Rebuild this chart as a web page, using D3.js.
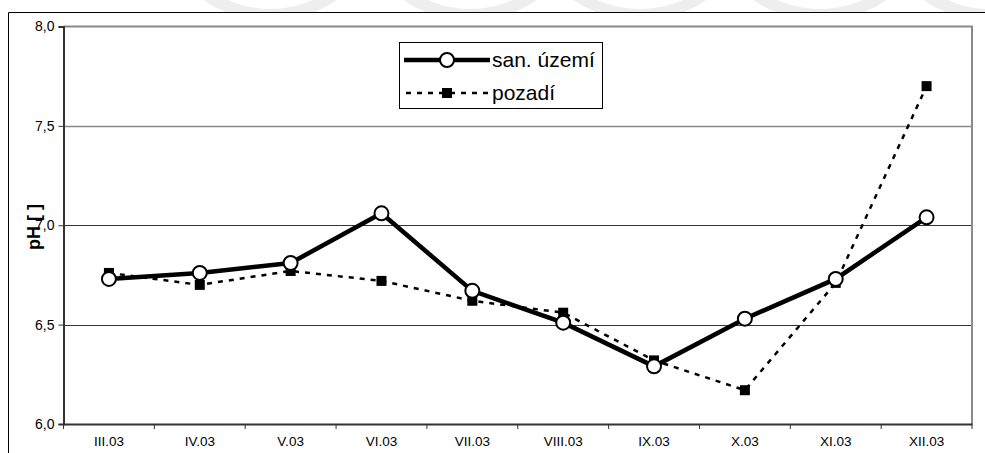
<!DOCTYPE html>
<html>
<head>
<meta charset="utf-8">
<script src="https://cdn.jsdelivr.net/npm/d3@7/dist/d3.min.js"></script>
<style>
  html, body { margin: 0; padding: 0; background: #fff; }
  svg { display: block; font-family: Arial, "Liberation Sans", sans-serif; }
</style>
</head>
<body>
<svg id="chart" width="985" height="453"></svg>
<script>
// Monthly pH readings, 2003
const months = ["III.03", "IV.03", "V.03", "VI.03", "VII.03", "VIII.03", "IX.03", "X.03", "XI.03", "XII.03"];
const sanUzemi = [6.73, 6.76, 6.81, 7.06, 6.67, 6.51, 6.29, 6.53, 6.73, 7.04];
const pozadi   = [6.76, 6.70, 6.77, 6.72, 6.62, 6.56, 6.32, 6.17, 6.71, 7.70];
const yTicks = [6.0, 6.5, 7.0, 7.5, 8.0];
const seriesNames = ["san. území", "pozadí"];

const FONT = "Arial, 'Liberation Sans', sans-serif";
const svg = d3.select("#chart");
const plot = { left: 63.5, top: 26.5, right: 972, bottom: 424 };

// faint background watermark arcs
const wm = svg.append("g").attr("fill", "none").attr("stroke", "#eeeeee").attr("stroke-width", 12);
[[270, -95], [470, -95], [640, -95], [820, -95], [990, -95]].forEach(([cx, cy]) => {
  wm.append("circle").attr("cx", cx).attr("cy", cy).attr("r", 110);
});

// outer frame
svg.append("path")
  .attr("d", "M8.5,453 L8.5,12.5 L985,12.5")
  .attr("fill", "none").attr("stroke", "#000").attr("stroke-width", 1);
svg.append("rect").attr("x", 9).attr("y", 13).attr("width", 976).attr("height", 440).attr("fill", "#fff");

const x = d3.scaleBand().domain(months).range([plot.left, plot.right]).padding(0);
const y = d3.scaleLinear().domain([6, 8]).range([plot.bottom, plot.top]);

// horizontal gridlines
svg.append("g").selectAll("line")
  .data(yTicks.filter(t => t > 6 && t < 8))
  .join("line")
  .attr("x1", plot.left).attr("x2", plot.right)
  .attr("y1", d => Math.round(y(d)) + 0.5).attr("y2", d => Math.round(y(d)) + 0.5)
  .attr("stroke", d => d === 7.5 ? "#8a8a8a" : "#000")
  .attr("stroke-width", d => d === 7.5 ? 1.3 : 0.8);

// top and right plot borders (grey)
svg.append("path")
  .attr("d", `M${plot.left},${plot.top} L${plot.right},${plot.top} L${plot.right},${plot.bottom}`)
  .attr("fill", "none").attr("stroke", "#8a8a8a").attr("stroke-width", 2);

// y axis
const yAxis = d3.axisLeft(y).tickValues(yTicks).tickSize(5).tickPadding(4)
  .tickFormat(d => d3.format(".1f")(d).replace(".", ","));
const gy = svg.append("g").attr("transform", `translate(${plot.left},0)`).call(yAxis);
gy.select(".domain").attr("stroke", "#333").attr("stroke-width", 2);
gy.selectAll(".tick line").attr("stroke", "#333");
gy.selectAll(".tick text").attr("font-size", 14).attr("fill", "#000").attr("font-family", FONT);

// x axis
const xAxis = d3.axisBottom(x).tickSize(0).tickPadding(12);
const gx = svg.append("g").attr("transform", `translate(0,${plot.bottom})`).call(xAxis);
gx.select(".domain").attr("stroke", "#333").attr("stroke-width", 2);
gx.selectAll(".tick text").attr("font-size", 13.5).attr("fill", "#000").attr("font-family", FONT);
// category separator ticks
svg.append("g").selectAll("line")
  .data(months.concat(["__end"]))
  .join("line")
  .attr("x1", (d, i) => i < months.length ? x(d) : plot.right)
  .attr("x2", (d, i) => i < months.length ? x(d) : plot.right)
  .attr("y1", plot.bottom).attr("y2", plot.bottom + 5)
  .attr("stroke", "#333").attr("stroke-width", 1);

// y axis title
svg.append("text")
  .attr("transform", `translate(40,227) rotate(-90)`)
  .attr("text-anchor", "middle")
  .attr("font-size", 18).attr("font-weight", "bold").attr("font-family", FONT)
  .text("pH [ ]");

const cx = d => x(d) + x.bandwidth() / 2;
const line = d3.line().x(d => cx(d.m)).y(d => y(d.v));

const bg = months.map((m, i) => ({ m, v: pozadi[i] }));
const san = months.map((m, i) => ({ m, v: sanUzemi[i] }));

// pozadí: dotted line with square markers
svg.append("path").datum(bg).attr("d", line)
  .attr("fill", "none").attr("stroke", "#000").attr("stroke-width", 2.5)
  .attr("stroke-dasharray", "5,6");
svg.append("g").selectAll("rect").data(bg).join("rect")
  .attr("x", d => cx(d.m) - 5).attr("y", d => y(d.v) - 5)
  .attr("width", 10).attr("height", 10).attr("fill", "#000");

// san. území: thick line with open circle markers
svg.append("path").datum(san).attr("d", line)
  .attr("fill", "none").attr("stroke", "#000").attr("stroke-width", 4.5)
  .attr("stroke-linejoin", "miter");
svg.append("g").selectAll("circle").data(san).join("circle")
  .attr("cx", d => cx(d.m)).attr("cy", d => y(d.v)).attr("r", 7)
  .attr("fill", "#fff").attr("stroke", "#000").attr("stroke-width", 2);

// legend
const lg = svg.append("g");
lg.append("rect").attr("x", 399.5).attr("y", 42.5).attr("width", 203).attr("height", 66)
  .attr("fill", "#fff").attr("stroke", "#000").attr("stroke-width", 1);
lg.append("line").attr("x1", 404).attr("x2", 490).attr("y1", 60).attr("y2", 60)
  .attr("stroke", "#000").attr("stroke-width", 4.5);
lg.append("circle").attr("cx", 447).attr("cy", 60).attr("r", 7)
  .attr("fill", "#fff").attr("stroke", "#000").attr("stroke-width", 2);
lg.append("line").attr("x1", 406).attr("x2", 490).attr("y1", 93).attr("y2", 93)
  .attr("stroke", "#000").attr("stroke-width", 2.5).attr("stroke-dasharray", "5,6");
lg.append("rect").attr("x", 442).attr("y", 88).attr("width", 10).attr("height", 10).attr("fill", "#000");
lg.selectAll("text.leg").data(seriesNames).join("text")
  .attr("class", "leg")
  .attr("x", 492).attr("y", (d, i) => 67 + i * 33)
  .attr("font-size", 21).attr("font-family", FONT)
  .text(d => d);
</script>
</body>
</html>
